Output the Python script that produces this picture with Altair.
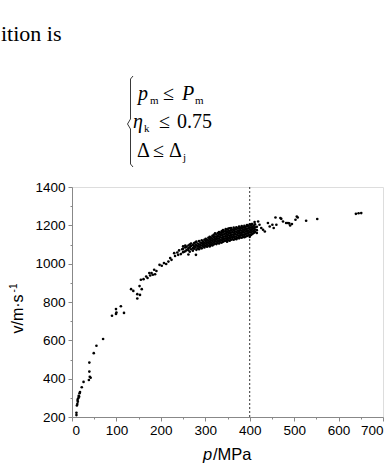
import altair as alt
import pandas as pd

# ---------------- data ----------------
low_p = [10, 10, 11, 12, 12.6, 13, 14, 15, 16, 17, 18, 22, 26, 38, 42, 40, 39, 39, 49, 55, 70,
         90, 99, 100, 99, 110, 117]
low_v = [210, 222, 260, 268, 289, 280, 298, 310, 306, 324, 330, 355, 383, 393, 405, 410, 437, 484, 533, 572, 607,
         728, 738, 745, 763, 778, 743]

mid_p = [133, 138, 147, 147, 153, 152, 157, 155, 161, 167, 170, 174, 179, 182, 187, 176, 185, 190,
         197, 202, 207, 212, 217, 221, 224, 230, 232, 237, 239, 241, 245, 248, 252, 262, 279]
mid_v = [867, 858, 841, 818, 837, 883, 867, 916, 919, 933, 925, 951, 951, 942, 945, 938, 968, 962,
         994, 989, 1003, 998, 1011, 1029, 1020, 1055, 1040, 1058, 1046, 1069, 1050, 1075, 1062, 1048, 1046]

band_rows = {
    250: [1060, 1078, 1090], 255: [1065, 1085, 1095], 258: [1072, 1088], 262: [1070, 1080, 1095],
    265: [1062, 1085, 1100], 268: [1075, 1092, 1105], 272: [1068, 1082, 1098], 275: [1078, 1090, 1108],
    278: [1085, 1100, 1112], 280: [1072, 1095, 1115], 283: [1080, 1092, 1105], 286: [1075, 1088, 1100, 1118],
    289: [1085, 1098, 1110], 292: [1080, 1095, 1108, 1122], 295: [1090, 1102, 1115], 298: [1085, 1098, 1110, 1125],
    301: [1092, 1105, 1118, 1130], 304: [1088, 1100, 1112, 1125], 307: [1095, 1108, 1120, 1135],
    310: [1090, 1102, 1115, 1128, 1140], 313: [1098, 1110, 1122, 1135], 316: [1095, 1105, 1118, 1130, 1145],
    319: [1100, 1112, 1125, 1138, 1150], 322: [1105, 1118, 1130, 1142, 1158], 325: [1102, 1115, 1128, 1140, 1152],
    328: [1108, 1120, 1132, 1145, 1160], 331: [1105, 1118, 1130, 1142, 1155, 1165],
    334: [1112, 1125, 1138, 1150, 1162], 337: [1110, 1122, 1135, 1148, 1160, 1170],
    340: [1115, 1128, 1140, 1152, 1165, 1175], 343: [1118, 1130, 1142, 1155, 1168],
    346: [1120, 1132, 1145, 1158, 1170, 1180], 349: [1115, 1128, 1140, 1152, 1165, 1178],
    352: [1122, 1135, 1148, 1160, 1172, 1183], 355: [1120, 1132, 1145, 1158, 1170, 1185],
    358: [1125, 1138, 1150, 1162, 1175, 1186], 361: [1128, 1140, 1152, 1165, 1178],
    364: [1125, 1138, 1150, 1162, 1175, 1188], 367: [1130, 1142, 1155, 1168, 1180],
    370: [1128, 1140, 1152, 1165, 1178, 1190], 373: [1135, 1148, 1160, 1172, 1185],
    376: [1132, 1145, 1158, 1170, 1182, 1193], 379: [1138, 1150, 1162, 1175, 1188],
    382: [1135, 1148, 1160, 1172, 1185, 1196], 385: [1140, 1152, 1165, 1178, 1190],
    388: [1138, 1150, 1162, 1175, 1188, 1198], 391: [1142, 1155, 1168, 1180, 1192],
    394: [1145, 1158, 1170, 1182, 1195, 1202], 397: [1148, 1160, 1172, 1185, 1198],
    400: [1140, 1152, 1165, 1178, 1190, 1205], 403: [1150, 1162, 1175, 1188, 1200],
    406: [1155, 1168, 1180, 1192, 1207], 409: [1160, 1172, 1185, 1198], 412: [1165, 1178, 1190, 1205],
    416: [1160, 1175, 1192],
}

high_p = [404, 411, 419, 422, 426, 430, 434, 441, 445, 451, 454, 458, 460, 469, 471, 475, 482, 486, 489,
          491, 495, 503, 506, 508, 527, 552, 639, 645, 651]
high_v = [1207, 1217, 1220, 1203, 1186, 1177, 1168, 1212, 1194, 1203, 1186, 1241, 1203, 1238, 1234, 1220, 1212,
          1212, 1210, 1199, 1207, 1229, 1246, 1241, 1224, 1233, 1260, 1263, 1264]

limit_p = [400]

x_major = [0, 100, 200, 300, 400, 500, 600, 700]
x_minor = [50, 150, 250, 350, 450, 550, 650]
y_major = [200, 400, 600, 800, 1000, 1200, 1400]
y_minor = [300, 500, 700, 900, 1100, 1300]

# ---------------- tables ----------------
band_p, band_v = [], []
for p, vs in band_rows.items():
    for v in vs:
        band_p.append(p)
        band_v.append(v)

df = pd.DataFrame({
    "p": low_p + mid_p + band_p + high_p,
    "v": low_v + mid_v + band_v + high_v,
})
rule_df = pd.DataFrame({"p": limit_p})

# ---------------- layout ----------------
LEFT, TOP, W, H = 72, 187, 311, 230
SANS = "Liberation Sans"
SERIF = "Liberation Serif"
LBL = 13.5

xscale = alt.Scale(domain=[0, 700], nice=False, zero=False)
yscale = alt.Scale(domain=[200, 1400], nice=False, zero=False)

points = alt.Chart(df).mark_circle(size=7, color="black", opacity=1).encode(
    x=alt.X("p:Q", scale=xscale,
            axis=alt.Axis(values=x_major, tickSize=4, labelPadding=2, title=None, orient="bottom", format="d",
                          labelFont=SANS, labelFontSize=LBL, labelColor="black", grid=False)),
    y=alt.Y("v:Q", scale=yscale,
            axis=alt.Axis(values=y_major, tickSize=4, labelPadding=3, title=None, orient="left", format="d",
                          labelFont=SANS, labelFontSize=LBL, labelColor="black", grid=False)),
)

minor = alt.Chart(df).mark_circle(size=1, opacity=0).encode(
    x=alt.X("p:Q", scale=xscale,
            axis=alt.Axis(values=x_minor, tickSize=2, labels=False, domain=False, title=None, orient="bottom",
                          grid=False)),
    y=alt.Y("v:Q", scale=yscale,
            axis=alt.Axis(values=y_minor, tickSize=2, labels=False, domain=False, title=None, orient="left",
                          grid=False)),
)

rule = alt.Chart(rule_df).mark_rule(color="#333333", strokeDash=[2, 2], strokeWidth=1).encode(
    x=alt.X("p:Q", scale=xscale, axis=None)
)

one = pd.DataFrame({"k": [0]})


def txt(s, cx, cy, size, font=SERIF, style="normal", align="left", baseline="alphabetic", angle=0):
    props = dict(font=font, fontSize=size, fontStyle=style, align=align, baseline=baseline, color="black")
    if angle:
        props["angle"] = angle
    return alt.Chart(one).mark_text(**props).encode(
        x=alt.value(cx - LEFT), y=alt.value(cy - TOP), text=alt.value(s)
    )


def seg(x1, y1, x2, y2):
    return alt.Chart(one).mark_rule(color="#222222", strokeWidth=0.9).encode(
        x=alt.value(x1 - LEFT), y=alt.value(y1 - TOP), x2=alt.value(x2 - LEFT), y2=alt.value(y2 - TOP)
    )


brace = [
    seg(133, 76, 130.5, 79),
    seg(130.5, 79, 130.5, 119),
    seg(130.5, 119, 127.5, 124),
    seg(127.5, 124, 130.5, 129),
    seg(130.5, 129, 130.5, 164),
    seg(130.5, 164, 133, 167),
]

texts = [
    txt("ition is", 1, 41, 22),
    # line 1
    txt("p", 138, 100, 20, style="italic"),
    txt("m", 150, 104, 11),
    txt("≤", 163, 100, 20),
    txt("P", 182, 100, 20, style="italic"),
    txt("m", 195, 104, 11),
    # line 2
    txt("η", 133, 128, 20, style="italic"),
    txt("k", 144, 132, 11),
    txt("≤", 159, 128, 20),
    txt("0.75", 177, 128, 20),
    # line 3
    txt("Δ", 137, 157, 20),
    txt("≤", 153, 157, 20),
    txt("Δ", 169, 157, 20),
    txt("j", 183, 161, 11),
    # axis titles
    txt("v/m·s", 23, 314, 16, font=SANS, align="center", angle=270),
    txt("-1", 17, 288, 10, font=SANS, align="center", angle=270),
    txt("p", 203, 460, 16.5, font=SANS, style="italic"),
    txt("/MPa", 213, 460, 16.5, font=SANS),
]

chart = alt.layer(minor, rule, points, *brace, *texts).resolve_axis(
    x="independent", y="independent"
).properties(
    width=W, height=H,
    autosize=alt.AutoSizeParams(type="none"),
    padding={"left": LEFT, "top": TOP, "right": 390 - LEFT - W, "bottom": 464 - TOP - H},
).configure_axis(
    labelFont=SANS, labelFontSize=LBL, labelColor="black", tickColor="black",
    domainColor="black", grid=False, tickWidth=1, domainWidth=1,
).configure_view(stroke=None).configure(background="white")

chart.save("out.html", embed_options={"renderer": "svg", "actions": False})
